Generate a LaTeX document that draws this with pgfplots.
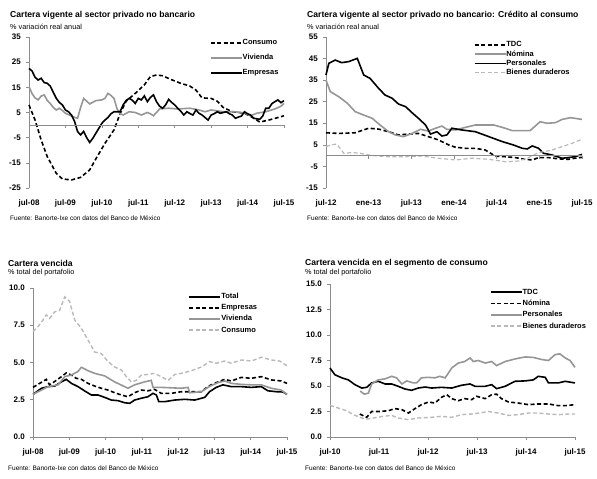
\documentclass[border=0pt]{standalone}
\usepackage{fontspec}
\setmainfont{Liberation Sans}
\usepackage{pgfplots}
\pgfplotsset{compat=1.18}
\definecolor{axgray}{RGB}{140,140,140}
\definecolor{midgray}{RGB}{150,150,150}
\definecolor{ltgray}{RGB}{185,185,185}
\newcommand{\tickfont}{\fontsize{8}{9}\selectfont\bfseries}
\newcommand{\legfont}{\fontsize{7.5}{8}\selectfont\bfseries}
\newcommand{\titfont}{\fontsize{8.6}{10}\selectfont\bfseries}
\newcommand{\subfont}{\fontsize{7.3}{8}\selectfont}
\newcommand{\srcfont}{\fontsize{6.5}{7}\selectfont}
\pgfplotsset{
  panel/.style={
    scale only axis, clip=false,
    axis y line*=left, axis x line*=bottom,
    axis line style={draw=axgray, line width=0.6pt},
    tick style={draw=axgray, line width=0.6pt},
    major tick length=3pt, tick align=outside,
    tick label style={font=\tickfont},
    xticklabel style={anchor=center, inner sep=0pt},
    yticklabel style={anchor=east, inner sep=0pt},
    legend cell align=left,
    legend image code/.code={\draw[##1] (0pt,0pt) -- (31pt,0pt);},
    legend style={draw=none, fill=none, inner sep=0pt, outer sep=0pt, anchor=north west,
      font=\legfont, nodes={inner sep=0pt, text height=5.5pt, text depth=1.5pt},
      /tikz/every even column/.append style={column sep=2pt}},
  },
  blk/.style={black, line width=1.6pt},
  blkd/.style={black, line width=1.6pt, dash pattern=on 4pt off 2.5pt},
  gry/.style={midgray, line width=1.6pt},
  lgd/.style={ltgray, line width=1.4pt, dash pattern=on 4pt off 2.5pt},
}
\begin{document}
\begin{tikzpicture}
\useasboundingbox (0pt,0pt) rectangle (597pt,479pt);

% ---------------- Panel 1 ----------------
\node[anchor=west, inner sep=0pt, font=\titfont] at (10pt,464pt) {Cartera vigente al sector privado no bancario};
\node[anchor=west, inner sep=0pt, font=\subfont] at (10pt,452pt) {\% variación real anual};
\node[anchor=west, inner sep=0pt, font=\srcfont] at (10pt,261pt) {Fuente: Banorte-Ixe con datos del Banco de México};
\begin{axis}[panel, at={(29pt,291pt)}, anchor=south west, width=255pt, height=151pt,
  xmin=0, xmax=84, ymin=-25, ymax=35,
  x axis line style={draw=none}, xtick style={draw=none},
  xtick={0,12,...,84}, xticklabels={jul-08,jul-09,jul-10,jul-11,jul-12,jul-13,jul-14,jul-15},
  xticklabel style={yshift=-12pt},
  ytick={-25,-15,-5,5,15,25,35}, yticklabels={-25,-15,-5,5,15,25,35},
  yticklabel style={xshift=-5pt},
  legend style={at={(0.71,0.985)}, row sep=8pt}]
\addplot[blkd] coordinates {(0,8) (2,2) (4,-5.9) (6,-12.5) (9,-19.2) (11,-21.4) (14,-21.8) (17,-20.8) (20,-17.8) (22,-13.5) (25,-7.3) (28,-1.9) (30,4.5) (32,9.5) (35,12.6) (38,16) (40,19.3) (42,19.9) (44,19.6) (47,18) (50,16.6) (53,15.5) (55,13.9) (57,10.8) (60,10.6) (62,9.5) (64,7) (67,5.3) (71,4.7) (74,2.8) (76,1.2) (79,2) (82,3) (84,3.7)};
\addlegendentry{Consumo}
\addplot[gry] coordinates {(0,15.3) (1,12.5) (2,10.8) (3,10) (4,11.5) (5,12) (6,9.8) (7,8.6) (8,7) (9,6) (10,6.7) (11,5.8) (12,4.7) (14,3.6) (15,3.1) (16,2.7) (17,7) (18,10.6) (20,8.4) (22,9.7) (24,10) (25,10.6) (26,12.6) (27,11.8) (28,10.6) (29,6.5) (30,4.5) (31,4) (33,5.3) (35,5) (37,4) (39,5) (40,4.5) (41,3.7) (42,5) (43,6.4) (46,6.7) (49,6.4) (53,6.7) (56,6) (58,5.3) (60,6) (64,5.3) (68,5.3) (71,4.8) (73,3.7) (75,4.7) (78,5.3) (81,6.4) (83,7.5) (84,8.6)};
\addlegendentry{Vivienda}
\addplot[blk] coordinates {(0,22.5) (1,21.5) (2,19) (3,17.9) (4,18.6) (5,16.9) (6,16.6) (7,15.5) (8,13) (9,10.6) (10,9) (11,8) (12,6) (13,5.3) (14,4) (15,1.5) (16,-2.6) (17,-3.9) (18,-2.5) (19,-5) (20,-6.9) (21,-5.3) (22,-3.3) (23,-1.3) (24,0.7) (25,2) (26,3) (27,4.5) (28,5.3) (30,5.3) (31,8) (32,9.8) (33,10.6) (34,9.9) (35,8.6) (36,10.6) (37,10) (38,11.6) (39,9.3) (40,11) (41,12) (42,9.3) (43,7.5) (44,6.7) (45,8) (46,10.2) (47,9) (48,8) (49,6.7) (50,5.5) (51,4) (52,5.3) (53,4.6) (54,4) (55,6) (56,4.7) (57,4) (58,3) (59,2) (60,4) (61,4.5) (62,5.3) (63,4.7) (64,5) (65,5.3) (66,4.5) (67,4) (68,2.7) (69,3.2) (70,3.6) (71,5.3) (72,4.5) (73,4) (74,2.7) (75,2.5) (76,2.3) (77,3.6) (78,6.7) (79,6.7) (80,8.5) (81,9.3) (82,10) (83,8.9) (84,9.7)};
\addlegendentry{Empresas}
\addplot[axgray, line width=0.6pt, forget plot] coordinates {(0,0) (84,0)};
\addplot[axgray, line width=0.6pt, ycomb, forget plot] coordinates {(12,-1.2) (24,-1.2) (36,-1.2) (48,-1.2) (60,-1.2) (72,-1.2) (84,-1.2)};
\end{axis}

% ---------------- Panel 2 ----------------
\node[anchor=west, inner sep=0pt, font=\titfont] at (307pt,464pt) {Cartera vigente al sector privado no bancario: Crédito al consumo};
\node[anchor=west, inner sep=0pt, font=\subfont] at (307pt,452pt) {\% variación real anual};
\node[anchor=west, inner sep=0pt, font=\srcfont] at (307pt,261pt) {Fuente: Banorte-Ixe con datos del Banco de México};
\begin{axis}[panel, at={(326pt,291pt)}, anchor=south west, width=256pt, height=151pt,
  xmin=0, xmax=36, ymin=-15, ymax=55,
  x axis line style={draw=none}, xtick style={draw=none},
  xtick={0,6,...,36}, xticklabels={jul-12,ene-13,jul-13,ene-14,jul-14,ene-15,jul-15},
  xticklabel style={yshift=-12pt},
  ytick={-15,-5,5,15,25,35,45,55}, yticklabels={-15,-5,5,15,25,35,45,55},
  yticklabel style={xshift=-5pt},
  legend style={at={(0.577,0.972)}, row sep=2.3pt}]
\addplot[blkd] coordinates {(0,10.6) (1.8,10.3) (4.1,10.6) (6,12.7) (7.4,12.3) (8.8,11.1) (10.2,9.6) (11.6,10) (13,10.3) (14.4,8.8) (15.8,7.3) (17.3,4.9) (18.2,3.9) (19.6,3.4) (21,3.4) (22.4,2.6) (23.8,-0.2) (25.2,-0.5) (26.6,-0.9) (28,-1.7) (29,-2) (29.9,-0.9) (31.3,-0.9) (32.7,-1.5) (34.1,-1.7) (35,-1.2) (36,-0.8)};
\addlegendentry{TDC}
\addplot[gry] coordinates {(0,35) (0.6,29.7) (1.8,27.3) (3,24.3) (4.1,20.4) (5.3,18.8) (6.5,17.3) (7.6,14.2) (8.8,11.1) (9.75,9.6) (10.9,8.8) (12.1,10.3) (13.3,12.2) (14.4,11.4) (15.4,12.7) (16.3,13.7) (17,12.2) (18.2,11.9) (19.6,13.1) (21,14.2) (22.4,14.2) (23.6,14.2) (24.8,13.1) (26.2,11.6) (27.6,11.6) (28.7,11.6) (30.1,15.7) (31.1,15) (32.3,15.3) (33.2,16.8) (34.4,17.6) (36,16.8)};
\addlegendentry{Nómina}
\addplot[blk] coordinates {(0,37.4) (0.4,42.8) (1.3,44.3) (2.2,43.1) (3.2,43.6) (4.4,45.1) (5.3,37.4) (6.2,35.8) (7.4,31.2) (8.3,28.1) (9.3,26.6) (10.2,23.9) (11.2,22.7) (12.1,19.9) (13,17.3) (14,14.2) (14.7,10) (15.6,11.1) (16.3,9.1) (17,9.6) (17.7,12.7) (19.1,11.9) (21,11.1) (22.9,8.8) (24.8,6.5) (26.4,4.9) (27.6,3.4) (28.3,3.1) (29,4.5) (29.9,3.4) (30.6,1.1) (31.8,0.3) (33.2,-1.2) (34.1,-0.9) (35,-0.5) (36,0.6)};
\addlegendentry{Personales}
\addplot[lgd, line width=1.2pt] coordinates {(0,4.2) (0.8,5) (1.5,5.4) (2.5,1.1) (3.7,1.4) (4.8,1.1) (6,0.3) (7.4,-0.2) (8.8,-0.5) (11.2,-0.5) (13.5,-0.2) (15.8,-1.2) (18.2,-2) (20.5,-1.2) (22.9,-1.7) (25.2,-2.8) (27.1,-2.5) (28.5,-0.9) (29.9,1.4) (31.8,2.6) (33.2,4.2) (34.6,5.7) (36,7.6)};
\addlegendentry{Bienes duraderos}
\addplot[axgray, line width=0.6pt, forget plot] coordinates {(0,0) (36,0)};
\addplot[axgray, line width=0.6pt, ycomb, forget plot] coordinates {(6,-1.4) (12,-1.4) (18,-1.4) (24,-1.4) (30,-1.4) (36,-1.4)};
\end{axis}

% ---------------- Panel 3 ----------------
\node[anchor=west, inner sep=0pt, font=\titfont] at (8pt,216pt) {Cartera vencida};
\node[anchor=west, inner sep=0pt, font=\subfont] at (8pt,206pt) {\% total del portafolio};
\node[anchor=west, inner sep=0pt, font=\srcfont] at (8pt,11pt) {Fuente: Banorte-Ixe con datos del Banco de México};
\begin{axis}[panel, at={(33pt,42pt)}, anchor=south west, width=254pt, height=149pt,
  xmin=0, xmax=84, ymin=0, ymax=10,
  xtick={0,12,...,84}, xticklabels={jul-08,jul-09,jul-10,jul-11,jul-12,jul-13,jul-14,jul-15},
  xticklabel style={yshift=-12pt},
  ytick={0,2.5,5,7.5,10}, yticklabels={0.0,2.5,5.0,7.5,10.0},
  yticklabel style={xshift=-5pt},
  legend style={at={(0.613,0.965)}, row sep=4.1pt}]
\addplot[blk] coordinates {(0,2.86) (2.8,3.27) (5,3.38) (7.2,3.42) (9.4,3.7) (11,3.87) (12.7,3.6) (14.9,3.38) (17.1,3.09) (19.3,2.82) (21.5,2.82) (23.7,2.66) (25.9,2.48) (28.1,2.44) (30.3,2.3) (32,2.26) (33.6,2.48) (35.8,2.6) (38,2.7) (39.7,2.93) (40.8,2.82) (41.6,2.37) (43.5,2.37) (46.9,2.48) (50.2,2.53) (53.5,2.48) (56.8,2.66) (58.4,3.04) (60.6,3.33) (62.8,3.5) (65.6,3.38) (68.9,3.38) (72.2,3.33) (75.5,3.38) (77.7,3.1) (80.5,3.04) (82.7,3.02) (84,2.86)};
\addlegendentry{Total}
\addplot[blkd] coordinates {(0,3.33) (2.2,3.6) (4.4,3.87) (5.5,3.5) (7.7,3.8) (9.4,4.05) (11,4.3) (12.7,4.16) (14.3,3.94) (16,3.87) (18.2,3.6) (20.4,3.42) (22.6,3.27) (24.8,3.15) (27,2.97) (29.2,2.82) (31.4,2.7) (33.6,2.97) (35.8,3.15) (38,3.1) (40.2,3.2) (42.4,2.93) (45.8,2.93) (49,3.04) (52.4,3.04) (55.7,3.04) (57.9,3.4) (60.6,3.65) (63.4,3.87) (65.6,3.76) (68.9,4) (72.2,3.94) (75.5,4.05) (78.8,3.83) (82.1,3.76) (84,3.6)};
\addlegendentry{Empresas}
\addplot[gry] coordinates {(0,2.86) (2.8,3.15) (5,3.38) (8.3,3.5) (10.5,4.05) (12.7,4.16) (14.9,4.4) (16,4.68) (18.2,4.45) (20.4,4.27) (23.7,4.1) (27,3.7) (30.3,3.38) (31.4,3.27) (33.6,3.5) (36.9,3.7) (39.1,3.8) (39.7,3.33) (42.4,3.33) (45.8,3.3) (49,3.27) (51.3,3.33) (51.8,2.97) (55.7,3.04) (58.4,3.4) (61.2,3.65) (63.4,3.76) (65.6,3.6) (68.9,3.53) (72.2,3.5) (75.5,3.5) (78.8,3.27) (82.1,3.15) (84,2.86)};
\addlegendentry{Vivienda}
\addplot[lgd] coordinates {(0,7.07) (1.65,7.4) (3.3,7.85) (4.4,8.2) (5.5,7.96) (7.2,8.4) (8.8,8.5) (10.5,9.4) (12.1,9.1) (13.8,7.85) (16,7.3) (18.2,6.5) (20.4,5.7) (22.6,5.6) (24.8,5.06) (27,4.7) (29.2,4.5) (30.9,4.05) (32.5,3.7) (34.2,3.8) (35.8,4.16) (38,4.2) (40.2,4.27) (42.4,4.05) (44.7,3.8) (46.9,4.2) (49,4.27) (52.4,4.45) (55.7,4.7) (58.4,5.06) (60.6,4.95) (63.4,5.1) (65.6,4.95) (68.9,5.17) (72.2,5.1) (75.5,5.35) (78.8,5.17) (81.6,5.1) (84,4.77)};
\addlegendentry{Consumo}
\end{axis}

% ---------------- Panel 4 ----------------
\node[anchor=west, inner sep=0pt, font=\titfont] at (305pt,216pt) {Cartera vencida en el segmento de consumo};
\node[anchor=west, inner sep=0pt, font=\subfont] at (305pt,206pt) {\% total del portafolio};
\node[anchor=west, inner sep=0pt, font=\srcfont] at (305pt,11pt) {Fuente: Banorte-Ixe con datos del Banco de México};
\begin{axis}[panel, at={(330pt,42pt)}, anchor=south west, width=245pt, height=153pt,
  xmin=0, xmax=60, ymin=0, ymax=15,
  xtick={0,12,...,60}, xticklabels={jul-10,jul-11,jul-12,jul-13,jul-14,jul-15},
  xticklabel style={yshift=-12pt},
  ytick={0,2.5,...,15}, yticklabels={0.0,2.5,5.0,7.5,10.0,12.5,15.0},
  yticklabel style={xshift=-5pt},
  legend style={at={(0.653,0.969)}, row sep=4.3pt}]
\addplot[blk] coordinates {(0,6.76) (1.2,6.1) (2.9,5.8) (4.5,5.6) (6.1,5.13) (7.8,4.8) (9,4.87) (10.2,5.3) (11.8,5.46) (13.5,5.2) (15.1,5.2) (16.7,4.97) (18.4,4.7) (20,4.58) (21.6,4.8) (23.3,4.9) (24.9,4.8) (27.3,4.87) (29.8,4.8) (32.2,5.07) (34.3,5.2) (35.5,4.97) (38,4.97) (39.6,5.13) (40.8,4.74) (42.9,4.97) (45.3,5.46) (47.8,5.5) (49.8,5.6) (51,5.95) (52.7,5.85) (53.5,5.3) (55.9,5.3) (57.6,5.46) (60,5.3)};
\addlegendentry{TDC}
\addplot[blkd] coordinates {(7.3,2.25) (9,1.93) (10.2,2.5) (12.2,2.5) (14.3,2.58) (15.9,2.78) (17.6,2.68) (19.2,2.35) (20.8,2.78) (22.4,3.17) (24.1,3.43) (25.7,3.33) (27.3,3.89) (28.6,4.15) (29.8,3.76) (31.4,3.56) (33,3.76) (34.7,3.66) (35.9,3.99) (38,3.76) (39.6,4.15) (40.8,4.2) (42,3.76) (43.7,3.43) (46.1,3.33) (48.6,3.17) (51,3.24) (53.5,3.24) (55.9,3.07) (57.6,3.07) (60,3.17)};
\addlegendentry{Nómina}
\addplot[gry] coordinates {(7.4,4.5) (8.4,4.2) (9.4,4.3) (10.2,5.2) (11.8,5.6) (13.5,5.7) (15.1,5.95) (16.3,5.8) (17.6,5.2) (18.8,5.5) (20.4,5.3) (21.2,5.3) (22.4,5.8) (24,5.85) (25.7,5.8) (26.9,5.95) (28.2,5.8) (29.8,6.76) (31.4,7.25) (33,7.4) (34.3,7.75) (35.1,7.4) (36.3,7.5) (38,7.25) (39.6,7.4) (40.8,7) (42.9,7.4) (45.3,7.65) (47.8,7.85) (49.8,7.8) (51.8,7.6) (53.5,7.5) (55.1,8.07) (56.3,8.15) (57.6,7.75) (58.8,7.5) (60,6.83)};
\addlegendentry{Personales}
\addplot[lgd] coordinates {(0,3.1) (2,2.84) (4.1,2.58) (5.7,2.19) (7.8,1.86) (9,1.76) (10.6,1.86) (13.1,2.03) (15.1,2.12) (16.7,1.86) (19.2,1.7) (21.6,1.86) (24.9,1.93) (27.3,2.03) (29.8,1.93) (32.2,2.19) (34.7,2.25) (36.7,2.35) (38.8,2.5) (41.2,2.35) (43.7,2.12) (46.1,2.19) (48.6,2.35) (51,2.35) (53.5,2.25) (55.9,2.19) (58.4,2.25) (60,2.25)};
\addlegendentry{Bienes duraderos}
\end{axis}
\end{tikzpicture}
\end{document}
